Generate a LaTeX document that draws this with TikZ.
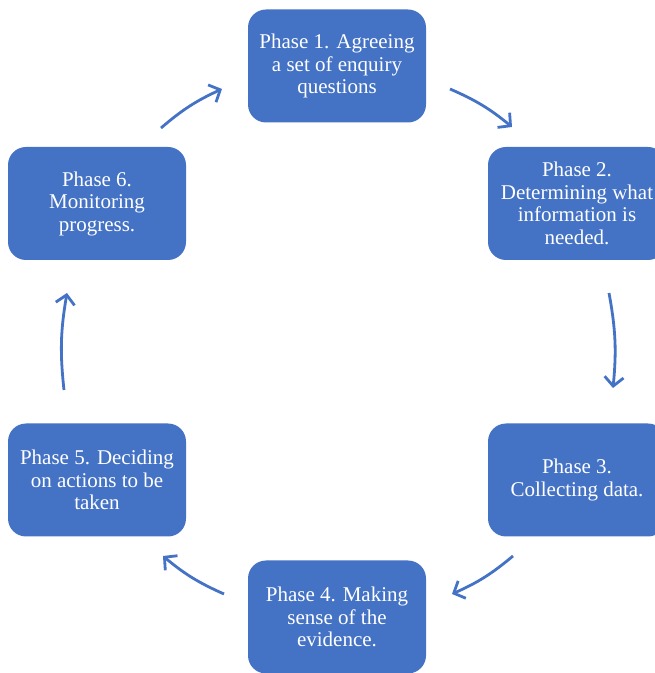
\documentclass[tikz,border=0pt]{standalone}
\usepackage{fontspec}
\setmainfont{Liberation Serif}
\usetikzlibrary{arrows.meta}
\definecolor{phaseblue}{HTML}{4472C4}
\tikzset{
  phase/.style={fill=phaseblue, rounded corners=18pt, minimum width=178pt, minimum height=113pt,
    align=center, text=white, inner sep=0pt, font=\fontsize{21}{22.5}\selectfont},
  cyc/.style={draw=phaseblue, line width=2.8pt, -{Straight Barb[length=9pt,width=19pt,line width=2.8pt]}},
}
\begin{document}
\begin{tikzpicture}[x=1pt,y=1pt]
  \useasboundingbox (0,0) rectangle (655,673);
  \clip (0,0) rectangle (655,673);
  % phases
  \node[phase] (p1) at (337,607) {Phase 1. Agreeing\\a set of enquiry\\questions};
  \node[phase] (p2) at (577,469.5) {Phase 2.\\Determining what\\information is\\needed.};
  \node[phase] (p3) at (577,193) {Phase 3.\\Collecting data.};
  \node[phase] (p4) at (337,56) {Phase 4. Making\\sense of the\\evidence.};
  \node[phase] (p5) at (97,193) {Phase 5. Deciding\\on actions to be\\taken};
  \node[phase] (p6) at (97,469.5) {Phase 6.\\Monitoring\\progress.};
  % arrow ends
  \coordinate (a1s) at (450,584); \coordinate (a1e) at (512,546);
  \coordinate (a2s) at (609,380); \coordinate (a2e) at (613,285);
  \coordinate (a3s) at (513,117); \coordinate (a3e) at (452,79);
  \coordinate (a4s) at (224,79);  \coordinate (a4e) at (163,117);
  \coordinate (a5s) at (64,283);  \coordinate (a5e) at (67,380);
  \coordinate (a6s) at (161,545); \coordinate (a6e) at (222,584);
  \draw[cyc] (a1s) to[bend left=8] (a1e);
  \draw[cyc] (a2s) to[bend left=8] (a2e);
  \draw[cyc] (a3s) to[bend left=8] (a3e);
  \draw[cyc] (a4s) to[bend left=8] (a4e);
  \draw[cyc] (a5s) to[bend left=8] (a5e);
  \draw[cyc] (a6s) to[bend left=8] (a6e);
\end{tikzpicture}
\end{document}
